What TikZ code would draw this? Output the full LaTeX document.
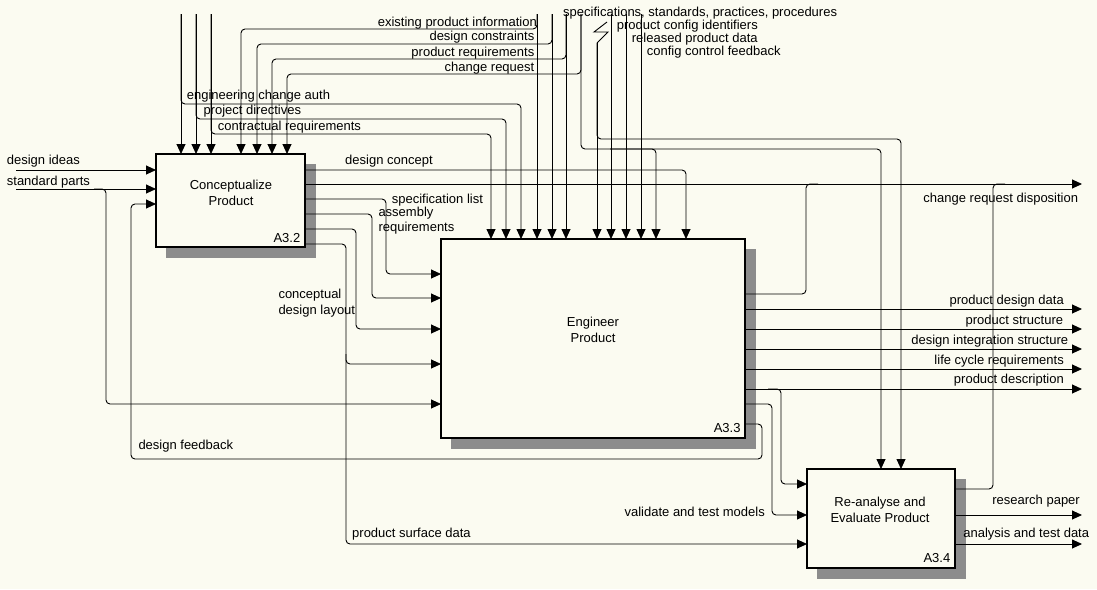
\documentclass[tikz,border=0pt]{standalone}
\usepackage{fontspec}
\setmainfont{Liberation Sans}
\usetikzlibrary{arrows.meta}
\definecolor{paper}{RGB}{251,251,241}
\begin{document}
\begin{tikzpicture}[x=1pt,y=-1pt,
  font=\fontsize{13}{16}\selectfont,
  box/.style={draw, line width=2.6pt, fill=paper, anchor=north west, outer sep=0pt, inner sep=0pt},
  boxshadow/.style={fill=black!45},
  flow/.style={draw, line width=0.9pt, rounded corners=4pt},
  arr/.style={flow, -{Triangle[length=10pt,width=9pt]}},
  lbl/.style={inner sep=0pt, anchor=base west},
  lblr/.style={inner sep=0pt, anchor=base east},
  boxtitle/.style={align=center, inner sep=0pt, anchor=north},
  boxno/.style={inner sep=0pt, anchor=base east}
]
% sheet
\fill[paper] (0,0) rectangle (1097,589);
\useasboundingbox (0,0) rectangle (1097,589);

% activity boxes with their drop shadows
\fill[boxshadow] (166,164) rectangle (316,258);
\fill[boxshadow] (451,249) rectangle (756,449);
\fill[boxshadow] (817,479) rectangle (966,579);
\node[box, minimum width=149pt, minimum height=93pt] (a32) at (156,154) {};
\node[box, minimum width=304pt, minimum height=199pt] (a33) at (441,239) {};
\node[box, minimum width=148pt, minimum height=99pt] (a34) at (807,469) {};

\node[boxtitle] (t32) at (231,179.5) {Conceptualize\\Product};
\node[boxtitle] (t33) at (593,317) {Engineer\\Product};
\node[boxtitle] (t34) at (880,496.5) {Re-analyse and\\Evaluate Product};
\node[boxno] (n32) at (300.5,242.7) {A3.2};
\node[boxno] (n33) at (740.7,432.7) {A3.3};
\node[boxno] (n34) at (950.5,562.7) {A3.4};

% free ends on the sheet border
\foreach \x in {181,196,211,537,552,566,581,611,626,641}
  \coordinate (top\x) at (\x,14);
\coordinate (top597) at (597,43);
\coordinate (in1) at (16,170);
\coordinate (in2) at (16,189);
\foreach \y in {184,309,329,349,369,389,515,544}
  \coordinate (out\y) at (1082,\y);

% controls from the top border
\foreach \x in {181,196,211}
  \draw[arr] (top\x) -- (\x,0 |- a32.north);
\draw[arr] (top181) -- (181,104) -- (521,104) -- (521,0 |- a33.north);
\draw[arr] (top196) -- (196,119) -- (506,119) -- (506,0 |- a33.north);
\draw[arr] (top211) -- (211,134) -- (491,134) -- (491,0 |- a33.north);

\foreach \x in {537,552,566,611,626,641}
  \draw[arr] (top\x) -- (\x,0 |- a33.north);
\draw[arr] (top537) -- (537,29) -- (241,29) -- (241,0 |- a32.north);
\draw[arr] (top552) -- (552,44) -- (257,44) -- (257,0 |- a32.north);
\draw[arr] (top566) -- (566,59) -- (272,59) -- (272,0 |- a32.north);
\draw[arr] (top581) -- (581,74) -- (287,74) -- (287,0 |- a32.north);
\draw[arr] (top581) -- (581,149) -- (881,149) -- (881,0 |- a34.north);
\draw[arr] (610,149) -- (656,149) -- (656,0 |- a33.north);

\draw[flow, rounded corners=0pt] (607,22) -- (594,32) -- (608,32) -- (top597);
\draw[arr] (top597) -- (597,0 |- a33.north);
\draw[arr] (top597) -- (597,139) -- (901,139) -- (901,0 |- a34.north);

% inputs of A3.2
\draw[arr] (in1) -- (0,170 -| a32.west);
\draw[arr] (in2) -- (0,189 -| a32.west);
\draw[arr] (94,189) -- (106,189) -- (106,404) -- (0,404 -| a33.west);

% outputs of A3.2
\draw[arr] (0,170 -| a32.east) -- (686,170) -- (686,0 |- a33.north);
\draw[arr] (0,184 -| a32.east) -- (out184);
\draw[arr] (0,199 -| a32.east) -- (386,199) -- (386,274) -- (0,274 -| a33.west);
\draw[arr] (0,214 -| a32.east) -- (372,214) -- (372,298) -- (0,298 -| a33.west);
\draw[arr] (0,229 -| a32.east) -- (356,229) -- (356,329) -- (0,329 -| a33.west);
\draw[arr] (0,244 -| a32.east) -- (346,244) -- (346,544) -- (0,544 -| a34.west);
\draw[arr] (346,354) -- (346,364) -- (0,364 -| a33.west);

% outputs of A3.3
\draw[flow] (0,294 -| a33.east) -- (806,294) -- (806,184) -- (818,184);
\foreach \y in {309,329,349,369,389}
  \draw[arr] (0,\y -| a33.east) -- (out\y);
\draw[arr] (768,389) -- (781,389) -- (781,484) -- (0,484 -| a34.west);
\draw[arr] (0,404 -| a33.east) -- (772,404) -- (772,515) -- (0,515 -| a34.west);
\draw[arr] (0,424 -| a33.east) -- (762,424) -- (762,459) -- (131,459) -- (131,204) -- (0,204 -| a32.west);

% outputs of A3.4
\draw[flow] (0,489 -| a34.east) -- (993,489) -- (993,184) -- (1005,184);
\draw[arr] (0,515 -| a34.east) -- (out515);
\draw[arr] (0,544 -| a34.east) -- (out544);

% arrow labels
\node[lblr] (l1) at (537,26.7) {existing product information};
\node[lblr] (l2) at (534.5,40) {design constraints};
\node[lblr] (l3) at (534.5,56) {product requirements};
\node[lblr] (l4) at (534.5,71) {change request};
\node[lbl] (l5) at (563,16.7) {specifications, standards, practices, procedures};
\node[lbl] (l6) at (616.7,29) {product config identifiers};
\node[lbl] (l7) at (631.7,42.3) {released product data};
\node[lbl] (l8) at (646.7,55) {config control feedback};
\node[lbl] (l9) at (186.7,99.3) {engineering change auth};
\node[lbl] (l10) at (203.3,114.3) {project directives};
\node[lbl] (l11) at (217.7,130) {contractual requirements};
\node[lbl] (l12) at (6.7,164.3) {design ideas};
\node[lbl] (l13) at (6.7,185.7) {standard parts};
\node[lbl] (l14) at (345,164.3) {design concept};
\node[lbl] (l15) at (391.7,203.3) {specification list};
\node[lbl] (l16) at (378.3,216.7) {assembly};
\node[lbl] (l17) at (378.3,231.7) {requirements};
\node[lblr] (l18) at (1078.3,202.7) {change request disposition};
\node[lbl] (l19) at (278.3,298.3) {conceptual};
\node[lbl] (l20) at (278.3,314) {design layout};
\node[lblr] (l21) at (1064,304) {product design data};
\node[lblr] (l22) at (1063.3,324) {product structure};
\node[lblr] (l23) at (1068.3,344) {design integration structure};
\node[lblr] (l24) at (1064,364) {life cycle requirements};
\node[lblr] (l25) at (1064,383.3) {product description};
\node[lbl] (l26) at (138.3,449.3) {design feedback};
\node[lblr] (l27) at (765,516) {validate and test models};
\node[lbl] (l28) at (352,537.5) {product surface data};
\node[lblr] (l29) at (1080,504.3) {research paper};
\node[lblr] (l30) at (1089.3,537.3) {analysis and test data};
\end{tikzpicture}
\end{document}
